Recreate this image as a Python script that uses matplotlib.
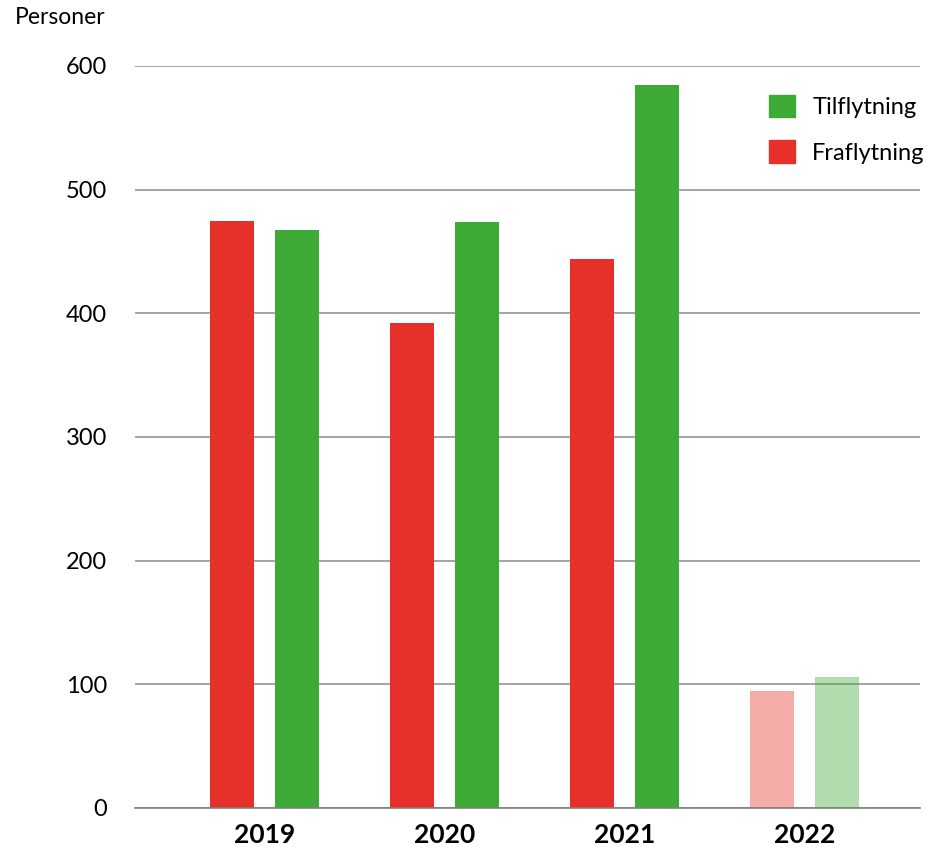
import numpy as np
import matplotlib.pyplot as plt
from matplotlib.patches import Patch

# Data
years = ["2019", "2020", "2021", "2022"]
fraflytning = [475, 392, 444, 95]
tilflytning = [467, 474, 585, 106]
alphas = [1.0, 1.0, 1.0, 0.4]   # 2022 shown faded

red = "#E8302A"
green = "#3DAA35"

plt.rcParams['font.family'] = ['Lato', 'DejaVu Sans']

fig = plt.figure(figsize=(9.42, 8.58), dpi=100)
ax = fig.add_axes([135 / 942, 50 / 858, 785 / 942, 742 / 858])

x = np.arange(len(years))
w = 0.244
off = 0.181
for i in range(len(years)):
    ax.bar(x[i] - off, fraflytning[i], w, color=red, alpha=alphas[i], zorder=2)
    ax.bar(x[i] + off, tilflytning[i], w, color=green, alpha=alphas[i], zorder=2)

ax.set_xlim(-0.719, 3.642)
ax.set_ylim(0, 600)
ax.set_yticks(range(0, 601, 100))
ax.set_xticks(x)
ax.set_xticklabels(years, fontsize=19, fontweight='bold')
ax.tick_params(axis='y', labelsize=17, length=0, pad=20)
ax.tick_params(axis='x', length=0, pad=11)
ax.yaxis.grid(True, color='#8c8c8c', linewidth=1.1, zorder=1)
ax.set_axisbelow(True)
for s in ['top', 'right', 'left']:
    ax.spines[s].set_visible(False)
ax.spines['bottom'].set_color('#7f7f7f')
ax.spines['bottom'].set_linewidth(1.2)

fig.text(15 / 942, 1 - 18 / 858, "Personer", fontsize=16.5, ha='left', va='center')

handles = [Patch(color=green, label="Tilflytning"), Patch(color=red, label="Fraflytning")]
ax.legend(handles=handles, loc='upper left', bbox_to_anchor=(0.78, 0.99), frameon=False,
          fontsize=17, handlelength=1.1, handleheight=1.1, handletextpad=0.75,
          labelspacing=0.95)

fig.savefig("out.png", dpi=100)
